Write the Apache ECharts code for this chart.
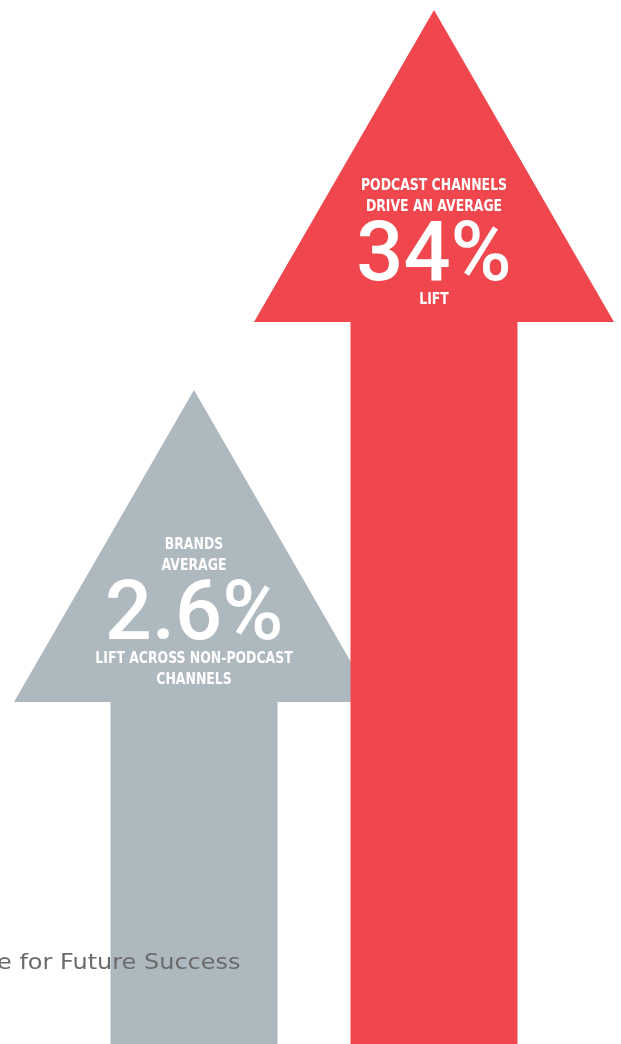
<!DOCTYPE html>
<html>
<head>
<meta charset="utf-8">
<script src="https://cdn.jsdelivr.net/npm/echarts@6/dist/echarts.min.js"></script>
<style>
html,body{margin:0;padding:0;background:#ffffff;}
#chart{width:621px;height:1044px;}
</style>
</head>
<body>
<div id="chart"></div>
<script>
// ---- data ----
var categories = ['Non-podcast channels', 'Podcast channels'];
var liftValues = [2.6, 34];                 // average lift, %
var arrowHeights = [654, 1034];             // illustrative arrow height (chart units)
var topLabels = [['BRANDS', 'AVERAGE'], ['PODCAST CHANNELS', 'DRIVE AN AVERAGE']];
var bottomLabels = [['LIFT ACROSS NON-PODCAST', 'CHANNELS'], ['LIFT']];
var arrowColors = ['#AEB8BF', '#EF474D'];
var footnote = 'e for Future Success';

var chart = echarts.init(document.getElementById('chart'), null, {renderer: 'canvas'});

var smallFont = '"DejaVu Sans Condensed", sans-serif';
var bigFont = 'Roboto, sans-serif';

function renderArrow(params, api) {
  var i = api.value(0);
  var apex = api.coord([i, api.value(1)]);
  var bottom = api.coord([i, 0]);
  var headLen = 312, headHalf = 180, shaftHalf = 83.5;
  var cx = apex[0];
  var baseY = apex[1] + headLen;
  var pts = [
    [cx, apex[1]],
    [cx + headHalf, baseY],
    [cx + shaftHalf, baseY],
    [cx + shaftHalf, bottom[1]],
    [cx - shaftHalf, bottom[1]],
    [cx - shaftHalf, baseY],
    [cx - headHalf, baseY]
  ];
  var children = [{
    type: 'polygon',
    shape: {points: pts},
    style: {fill: arrowColors[i]}
  }];
  var bl = bottomLabels[i], tl = topLabels[i];
  var lineH = 21;
  var lastY = baseY - 22;
  function small(txt, y) {
    return {
      type: 'text',
      x: cx, y: y, scaleX: 0.865,
      style: {
        text: txt, x: 0, y: 0,
        align: 'center', verticalAlign: 'middle',
        fill: '#ffffff', font: 'bold 16px ' + smallFont
      }
    };
  }
  for (var k = 0; k < bl.length; k++) {
    children.push(small(bl[k], lastY - lineH * (bl.length - 1 - k)));
  }
  var numY = lastY - lineH * (bl.length - 1) - 47;
  children.push({
    type: 'text',
    x: cx, y: numY + 6,
    style: {
      text: liftValues[i] + '%', x: 0, y: 0,
      align: 'center', verticalAlign: 'middle',
      fill: '#ffffff', font: '500 83px ' + bigFont
    }
  });
  var topLast = numY - 46;
  for (var k = 0; k < tl.length; k++) {
    children.push(small(tl[k], topLast - lineH * (tl.length - 1 - k)));
  }
  return {type: 'group', children: children};
}

var seriesData = categories.map(function (c, i) { return [i, arrowHeights[i]]; });

chart.setOption({
  animation: false,
  grid: {left: 74, right: 67, top: 0, bottom: 0},
  xAxis: {type: 'category', data: categories, show: false},
  yAxis: {type: 'value', min: 0, max: 1044, show: false},
  graphic: [{
    type: 'text',
    left: -3,
    top: 952,
    scaleX: 1.09,
    z: 100,
    style: {
      text: footnote,
      fill: '#6b6b6b',
      font: '22px "DejaVu Sans", sans-serif'
    }
  }],
  series: [{
    type: 'custom',
    renderItem: renderArrow,
    data: seriesData,
    z: 2
  }]
});
</script>
</body>
</html>
